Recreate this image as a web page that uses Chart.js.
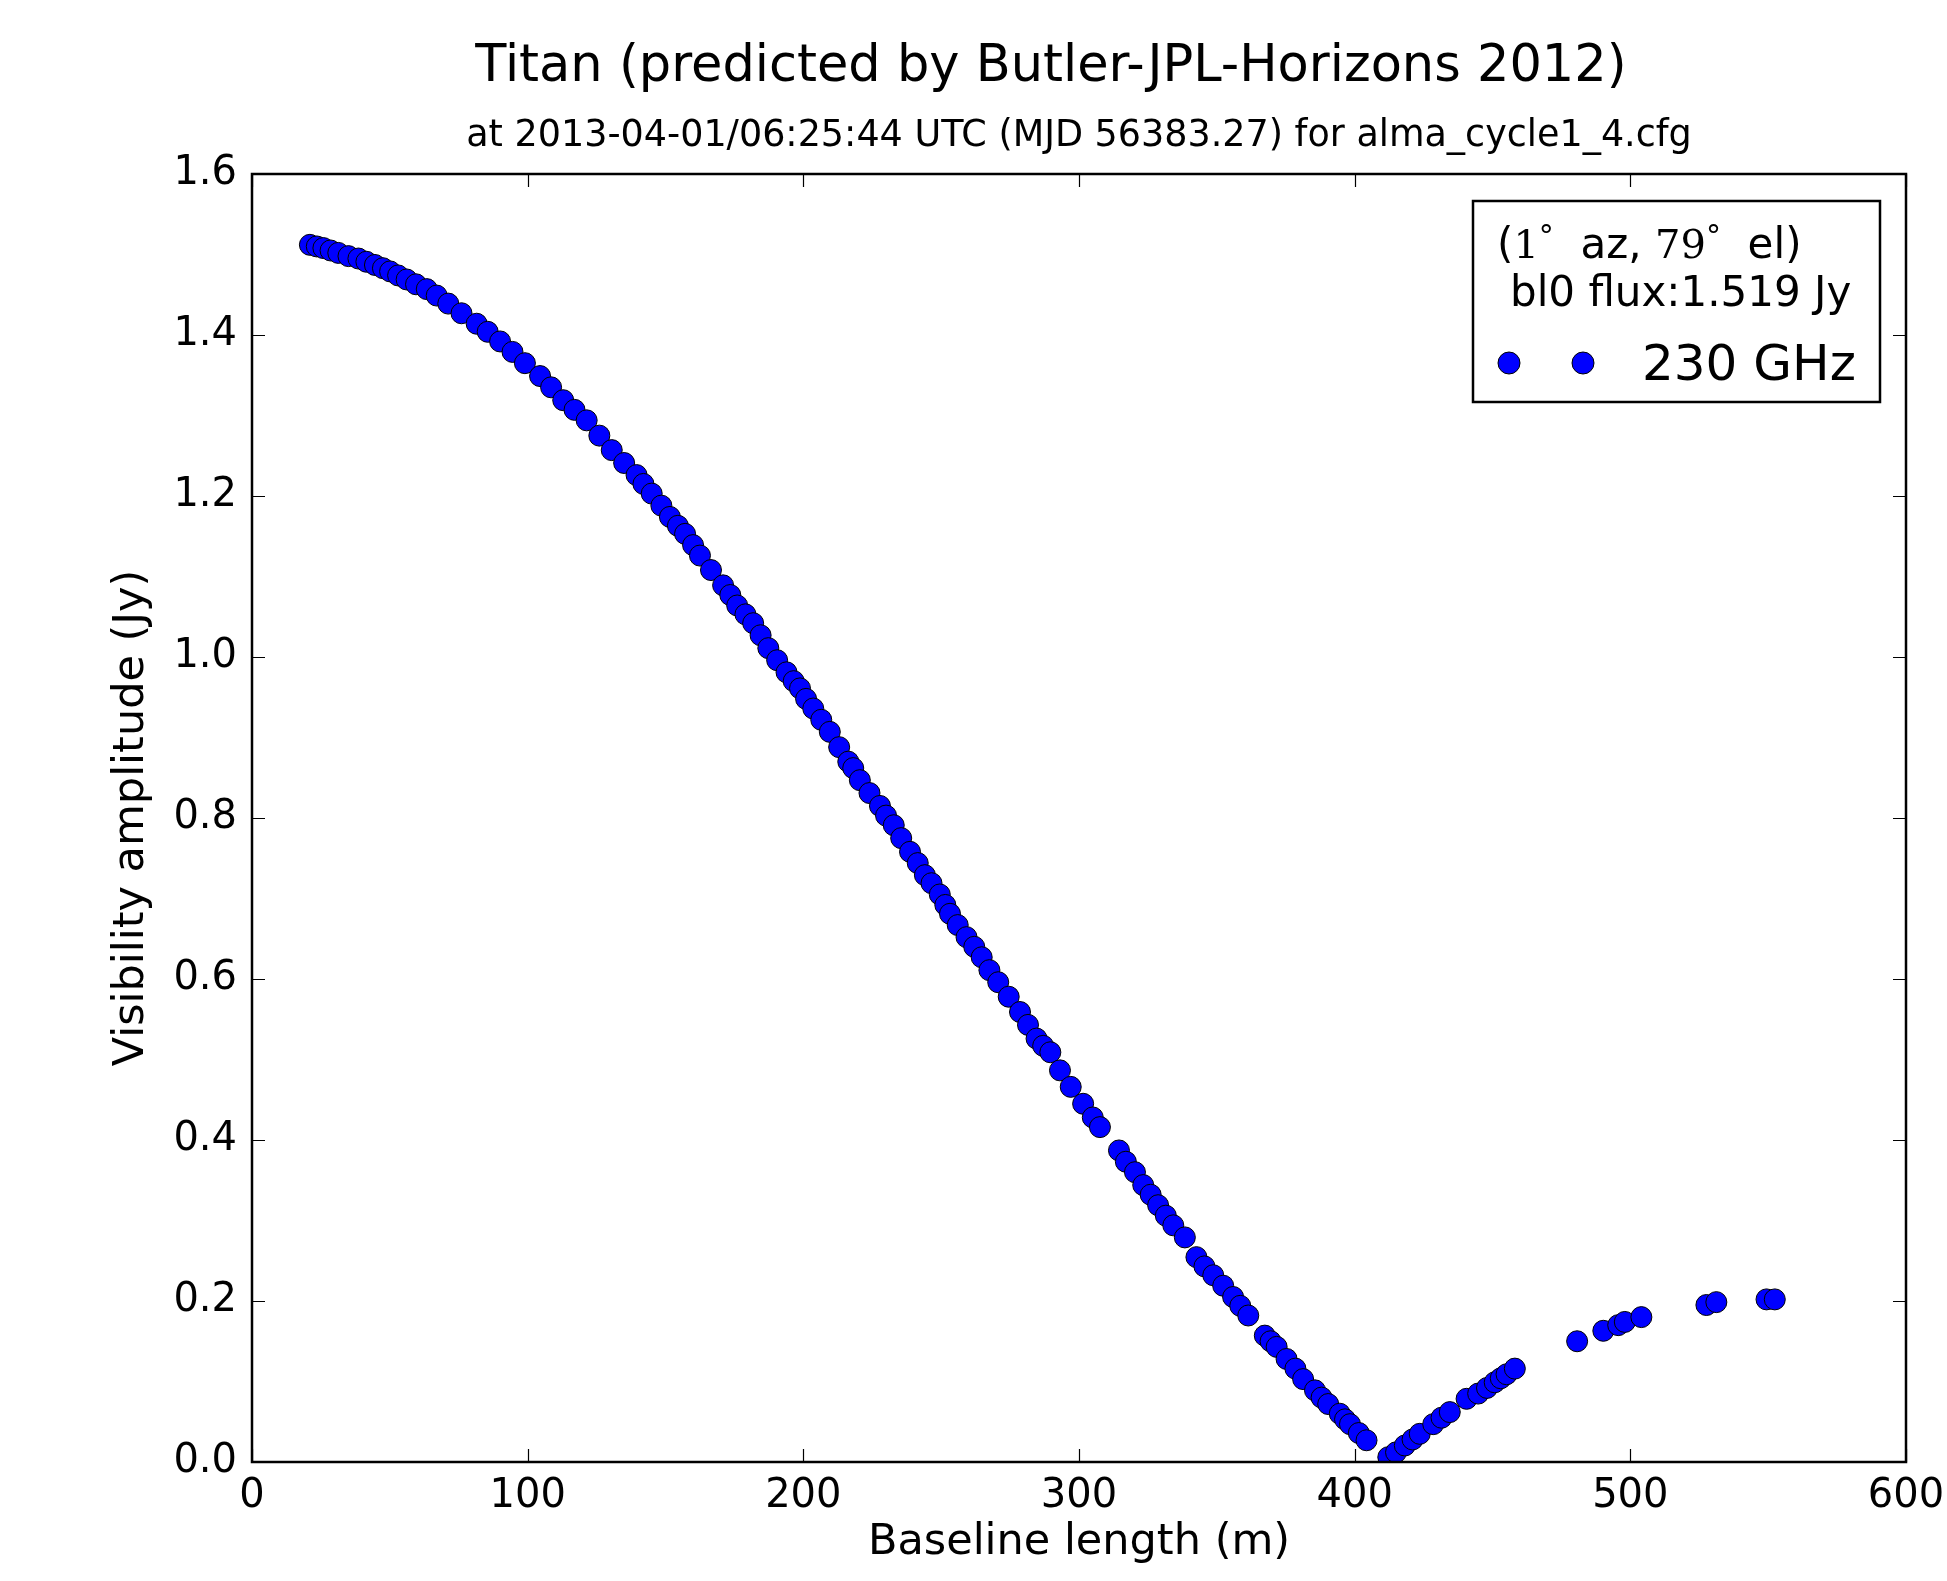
<!DOCTYPE html>
<html>
<head>
<meta charset="utf-8">
<script src="https://cdn.jsdelivr.net/npm/chart.js@4/dist/chart.umd.min.js"></script>
<style>
html,body{margin:0;padding:0;background:#fff;}
#wrap{width:1947px;height:1581px;position:relative;}
</style>
</head>
<body>
<div id="wrap"><canvas id="c" width="1947" height="1581"></canvas></div>
<script>
// ---- data ----
const baselineLength = [
  21.0, 23.5, 25.9, 28.5, 31.3, 35.0, 38.6, 41.5, 44.6, 47.5, 50.1, 53.0, 56.1, 59.5, 63.4, 67.0,
  71.2, 76.0, 81.5, 85.5, 90.0, 94.5, 99.0, 104.5, 108.5, 112.9, 117.0, 121.4, 126.0, 130.5, 135.0,
  139.5, 142.0, 145.0, 148.5, 151.6, 154.5, 157.1, 160.0, 162.5, 166.5, 170.9, 173.5, 176.0, 179.0,
  181.8, 184.5, 187.3, 190.5, 193.9, 196.5, 198.8, 201.0, 203.6, 206.5, 209.6, 213.0, 216.3, 218.1,
  220.5, 224.0, 227.8, 230.0, 232.8, 235.5, 238.7, 241.5, 244.1, 246.5, 249.5, 251.5, 253.2, 256.0,
  259.2, 262.0, 264.7, 267.5, 270.7, 274.5, 278.6, 281.5, 284.6, 287.0, 289.6, 293.1, 297.0, 301.5,
  305.0, 307.6, 314.5, 317.0, 320.3, 323.3, 326.0, 328.7, 331.5, 334.2, 338.4, 342.6, 345.5, 348.7,
  352.3, 355.9, 358.5, 361.4, 367.4, 369.5, 371.7, 375.3, 378.5, 381.3, 385.6, 388.0, 390.4, 394.6,
  396.5, 398.3, 401.5, 404.3,
  412.2, 415.0, 418.2, 421.0, 423.6, 428.5, 431.5, 434.5, 440.6, 444.8, 448.0, 450.8, 453.0, 455.1,
  458.1, 480.7, 490.2, 495.6, 498.0, 504.0, 527.6, 531.2, 549.4, 552.4
];
const visAmplitude = [
  1.512, 1.510, 1.508, 1.505, 1.502, 1.498, 1.495, 1.491, 1.487, 1.483, 1.479, 1.474, 1.469, 1.463, 1.457, 1.449,
  1.439, 1.427, 1.414, 1.404, 1.392, 1.379, 1.365, 1.349, 1.335, 1.319, 1.307, 1.294, 1.275, 1.257, 1.241,
  1.226, 1.215, 1.203, 1.188, 1.174, 1.163, 1.153, 1.139, 1.126, 1.108, 1.089, 1.077, 1.064, 1.053,
  1.042, 1.027, 1.011, 0.996, 0.981, 0.970, 0.961, 0.948, 0.936, 0.922, 0.907, 0.888, 0.870, 0.862,
  0.847, 0.831, 0.815, 0.803, 0.791, 0.775, 0.758, 0.744, 0.729, 0.719, 0.705, 0.692, 0.681, 0.667,
  0.652, 0.640, 0.627, 0.611, 0.596, 0.578, 0.559, 0.543, 0.526, 0.517, 0.509, 0.4865, 0.466, 0.445,
  0.428, 0.416, 0.387, 0.373, 0.360, 0.344, 0.332, 0.319, 0.306, 0.294, 0.279, 0.2545, 0.243, 0.232,
  0.219, 0.205, 0.194, 0.182, 0.157, 0.150, 0.143, 0.128, 0.116, 0.103, 0.089, 0.080, 0.072, 0.060,
  0.053, 0.047, 0.036, 0.027,
  0.006, 0.012, 0.0205, 0.028, 0.035, 0.047, 0.055, 0.062, 0.0785, 0.085, 0.092, 0.099, 0.104, 0.109,
  0.116, 0.150, 0.163, 0.170, 0.174, 0.180, 0.195, 0.1986, 0.202, 0.202
];
const xTickValues = [0, 100, 200, 300, 400, 500, 600];
const yTickValues = [0.0, 0.2, 0.4, 0.6, 0.8, 1.0, 1.2, 1.4, 1.6];
const titleText = 'Titan (predicted by Butler-JPL-Horizons 2012)';
const subtitleText = 'at 2013-04-01/06:25:44 UTC (MJD 56383.27) for alma_cycle1_4.cfg';
const xAxisLabel = 'Baseline length (m)';
const yAxisLabel = 'Visibility amplitude (Jy)';
const seriesLabel = '230 GHz';
const legendLine2 = 'bl0 flux:1.519 Jy';

const SANS = '"DejaVu Sans", sans-serif';
const SERIF = '"DejaVu Serif", "Liberation Serif", serif';

const points = baselineLength.map((x, i) => ({x: x, y: visAmplitude[i]}));

// shift the main title a little left of the plot centre, as in the reference
const titleShift = {
  id: 'titleShift',
  afterLayout(chart) {
    const tb = chart.titleBlock;
    if (tb) { tb.left -= 28; tb.right -= 28; }
  }
};

// inward ticks + frame (matplotlib style)
const framePlugin = {
  id: 'framePlugin',
  afterDatasetsDraw(chart) {
    const {ctx, chartArea: {left, right, top, bottom}, scales: {x, y}} = chart;
    const L = 13;
    ctx.save();
    ctx.strokeStyle = '#000';
    ctx.lineWidth = 1.2;
    ctx.beginPath();
    x.ticks.forEach(t => {
      const px = Math.round(x.getPixelForValue(t.value)) + 0.5;
      ctx.moveTo(px, bottom); ctx.lineTo(px, bottom - L);
      ctx.moveTo(px, top); ctx.lineTo(px, top + L);
    });
    y.ticks.forEach(t => {
      const py = Math.round(y.getPixelForValue(t.value)) + 0.5;
      ctx.moveTo(left, py); ctx.lineTo(left + L, py);
      ctx.moveTo(right, py); ctx.lineTo(right - L, py);
    });
    ctx.stroke();
    ctx.lineWidth = 2.5;
    ctx.strokeRect(left, top, right - left, bottom - top);
    ctx.restore();
  }
};

// legend box (matplotlib style, with header text and two markers)
const legendPlugin = {
  id: 'legendPlugin',
  afterDraw(chart) {
    const ctx = chart.ctx;
    const ds = chart.data.datasets[0];
    ctx.save();
    ctx.fillStyle = '#fff';
    ctx.fillRect(1473, 201, 407, 201);
    ctx.strokeStyle = '#000';
    ctx.lineWidth = 2.5;
    ctx.strokeRect(1473, 201, 407, 201);
    ctx.fillStyle = '#000';
    ctx.textBaseline = 'alphabetic';
    ctx.textAlign = 'left';
    const pieces = [
      ['(', SANS, 42, 0],
      ['1', SERIF, 40, 0],
      ['°', SANS, 30, -12],
      ['  az, ', SANS, 42, 0],
      ['79', SERIF, 40, 0],
      ['°', SANS, 30, -12],
      ['  el)', SANS, 42, 0]
    ];
    let px = 1497;
    const base1 = 258;
    pieces.forEach(p => {
      ctx.font = p[2] + 'px ' + p[1];
      ctx.fillText(p[0], px, base1 + p[3]);
      px += ctx.measureText(p[0]).width;
    });
    ctx.font = '42px ' + SANS;
    ctx.fillText(legendLine2, 1510, 306);
    [1509, 1583].forEach(mx => {
      ctx.beginPath();
      ctx.arc(mx, 363, 11, 0, Math.PI * 2);
      ctx.fillStyle = ds.backgroundColor;
      ctx.fill();
      ctx.lineWidth = 1;
      ctx.strokeStyle = ds.borderColor;
      ctx.stroke();
    });
    ctx.fillStyle = '#000';
    ctx.font = '50px ' + SANS;
    ctx.fillText(seriesLabel, 1642, 380);
    ctx.restore();
  }
};

new Chart(document.getElementById('c'), {
  type: 'scatter',
  data: {
    datasets: [{
      label: seriesLabel,
      data: points,
      backgroundColor: '#0000ff',
      borderColor: '#000000',
      borderWidth: 1,
      pointRadius: 10.5,
      pointHoverRadius: 10.5
    }]
  },
  options: {
    responsive: false,
    animation: false,
    devicePixelRatio: 1,
    layout: {padding: {top: 0, right: 41, bottom: 0, left: 0}},
    plugins: {
      legend: {display: false},
      tooltip: {enabled: false},
      title: {
        display: true, text: titleText, color: '#000', fullSize: false,
        font: {family: SANS, size: 51, weight: 'normal'},
        padding: {top: 37, bottom: 0}
      },
      subtitle: {
        display: true, text: subtitleText, color: '#000', fullSize: false,
        font: {family: SANS, size: 36.5, weight: 'normal'},
        padding: {top: 16.7, bottom: 15.3}
      }
    },
    scales: {
      x: {
        type: 'linear', min: 0, max: 600,
        afterBuildTicks: s => { s.ticks = xTickValues.map(v => ({value: v})); },
        afterFit: s => { s.height = 119; s.paddingLeft = 0; s.paddingRight = 0; },
        grid: {display: false},
        border: {display: false},
        ticks: {
          color: '#000', padding: 3, maxRotation: 0, autoSkip: false,
          font: {family: SANS, size: 40},
          callback: v => String(v)
        },
        title: {
          display: true, text: xAxisLabel, color: '#000',
          font: {family: SANS, size: 43},
          padding: {top: 0, bottom: 12.3}
        }
      },
      y: {
        type: 'linear', min: 0, max: 1.6,
        afterBuildTicks: s => { s.ticks = yTickValues.map(v => ({value: v})); },
        afterFit: s => { s.width = 252; s.paddingTop = 0; s.paddingBottom = 0; },
        grid: {display: false},
        border: {display: false},
        ticks: {
          color: '#000', padding: 7, autoSkip: false,
          font: {family: SANS, size: 40},
          callback: v => Number(v).toFixed(1)
        },
        title: {
          display: true, text: yAxisLabel, color: '#000',
          font: {family: SANS, size: 43},
          padding: {top: 106, bottom: 0}
        }
      }
    }
  },
  plugins: [titleShift, framePlugin, legendPlugin]
});
</script>
</body>
</html>
